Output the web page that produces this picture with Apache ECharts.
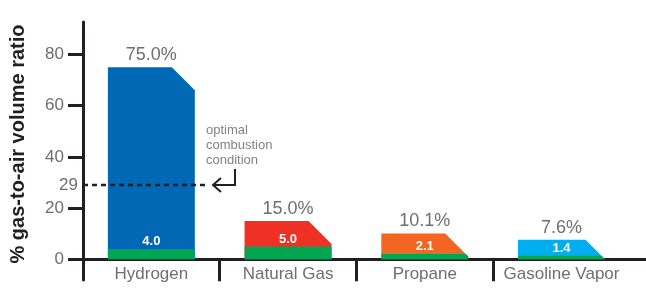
<!DOCTYPE html>
<html>
<head>
<meta charset="utf-8">
<script src="https://cdn.jsdelivr.net/npm/echarts@6/dist/echarts.min.js"></script>
<style>
  html, body { margin: 0; padding: 0; background: #fff; }
  #chart { width: 646px; height: 291px; }
</style>
</head>
<body>
<div id="chart"></div>
<script>
const categories = ['Hydrogen', 'Natural Gas', 'Propane', 'Gasoline Vapor'];
const lowerLimit = [4.0, 5.0, 2.1, 1.4];
const upperLimit = [75.0, 15.0, 10.1, 7.6];
const yTicks = [0, 20, 40, 60, 80];
const optimalRatio = 29;
const optimalNote = 'optimal\ncombustion\ncondition';

const topColors = ['#0068b5', '#ee3124', '#f26522', '#00aeef'];
const green = '#00a651';
const ink = '#231f20';
const grey = '#6d6e71';
const font = 'Liberation Sans, Arial, sans-serif';

const chart = echarts.init(document.getElementById('chart'));

// bar centres sit in the middle of each unit slot on a value x axis
const barData = categories.map((c, i) => [i + 0.5, lowerLimit[i], upperLimit[i]]);

function renderBar(params, api) {
    const x = api.value(0), lo = api.value(1), hi = api.value(2);
    const base = api.coord([x, 0]);
    const top = api.coord([x, hi]);
    const low = api.coord([x, lo]);
    const w = api.size([0.636, 0])[0];
    const L = base[0] - w / 2, R = base[0] + w / 2;
    const yb = base[1], yt = top[1], yl = low[1];
    const c = Math.min(23, yb - yt); // cut corner
    const full = [[L, yb], [L, yt], [R - c, yt], [R, yt + c], [R, yb]];
    const xl = yl < yt + c ? R - c + (yl - yt) : R;
    const bottom = [[L, yb], [L, yl], [xl, yl]];
    if (yt + c > yl) bottom.push([R, yt + c]);
    bottom.push([R, yb]);
    return {
        type: 'group',
        children: [
            { type: 'polygon', shape: { points: full }, style: { fill: topColors[params.dataIndex] } },
            { type: 'polygon', shape: { points: bottom }, style: { fill: green } },
            {
                type: 'text', x: base[0], y: yt - 3,
                style: { text: hi.toFixed(1) + '%', fill: grey, font: '18px ' + font, align: 'center', verticalAlign: 'bottom' }
            },
            {
                type: 'text', x: base[0], y: yl - 1,
                style: { text: lo.toFixed(1), fill: '#fff', font: 'bold 13px ' + font, align: 'center', verticalAlign: 'bottom' }
            }
        ]
    };
}

function renderNote(params, api) {
    const p = api.coord([0, api.value(0)]);
    const x = p[0], y = p[1];
    return {
        type: 'group',
        children: [
            { type: 'line', shape: { x1: x, y1: y, x2: x + 126, y2: y }, style: { stroke: ink, lineWidth: 2.5, lineDash: [5, 4] } },
            { type: 'polyline', shape: { points: [[x + 138, y - 7], [x + 130, y], [x + 138, y + 7]] }, style: { stroke: ink, lineWidth: 2, fill: null } },
            { type: 'polyline', shape: { points: [[x + 130, y], [x + 152, y], [x + 152, y - 16]] }, style: { stroke: ink, lineWidth: 2, fill: null } },
            { type: 'text', x: x + 123, y: y - 62, style: { text: optimalNote, fill: '#808285', font: '13px ' + font, lineHeight: 15, align: 'left', verticalAlign: 'top' } },
            { type: 'text', x: x - 5, y: y, style: { text: String(api.value(0)), fill: grey, font: '17px ' + font, align: 'right', verticalAlign: 'middle' } }
        ]
    };
}

chart.setOption({
    animation: false,
    grid: { left: 70, right: 0, top: 22, bottom: 11, outerBoundsMode: 'none' },
    xAxis: {
        type: 'value',
        min: -0.095,
        max: 4.118,
        splitLine: { show: false },
        axisLine: { onZero: true, lineStyle: { color: ink, width: 3 } },
        axisTick: { show: true, customValues: [1, 2, 3], length: 22, lineStyle: { color: ink, width: 3 } },
        axisLabel: {
            customValues: categories.map((c, i) => i + 0.5),
            formatter: v => categories[Math.floor(v)],
            color: grey, fontSize: 17, fontFamily: font, margin: -14
        }
    },
    yAxis: {
        type: 'value',
        min: -8.1,
        max: 92.7,
        name: '% gas-to-air volume ratio',
        nameLocation: 'middle',
        nameRotate: 90,
        nameGap: 42,
        nameTextStyle: { color: ink, fontSize: 20, fontWeight: 'bold', fontFamily: font, padding: [0, 0, 0, 14] },
        splitLine: { show: false },
        axisLine: { onZero: true, lineStyle: { color: ink, width: 3 } },
        axisTick: { show: true, customValues: yTicks, length: 15, lineStyle: { color: ink, width: 3 } },
        axisLabel: { customValues: yTicks, color: grey, fontSize: 17, fontFamily: font, margin: 6 }
    },
    series: [
        { type: 'custom', renderItem: renderBar, data: barData, z: 2 },
        { type: 'custom', renderItem: renderNote, data: [[optimalRatio]], z: 5 }
    ]
});
</script>
</body>
</html>
